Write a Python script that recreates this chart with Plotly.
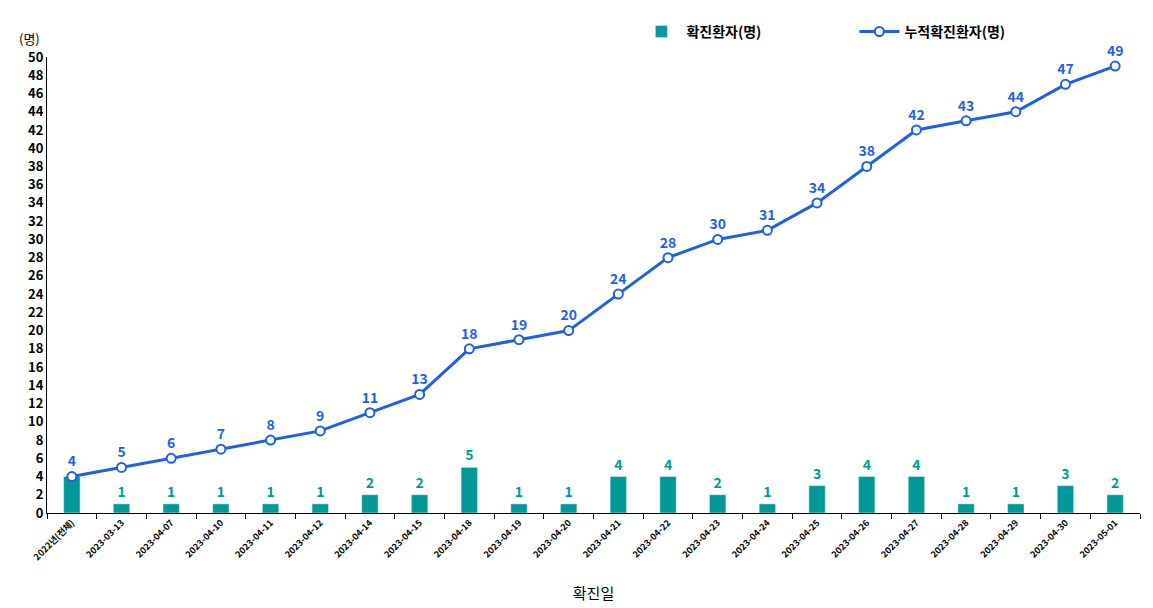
import plotly.graph_objects as go

dates = ['2022년(전체)', '2023-03-13', '2023-04-07', '2023-04-10', '2023-04-11', '2023-04-12',
         '2023-04-14', '2023-04-15', '2023-04-18', '2023-04-19', '2023-04-20', '2023-04-21',
         '2023-04-22', '2023-04-23', '2023-04-24', '2023-04-25', '2023-04-26', '2023-04-27',
         '2023-04-28', '2023-04-29', '2023-04-30', '2023-05-01']
daily_cases = [4, 1, 1, 1, 1, 1, 2, 2, 5, 1, 1, 4, 4, 2, 1, 3, 4, 4, 1, 1, 3, 2]
cumulative_cases = [4, 5, 6, 7, 8, 9, 11, 13, 18, 19, 20, 24, 28, 30, 31, 34, 38, 42, 43, 44, 47, 49]
y_ticks = list(range(0, 51, 2))

teal = '#009999'
blue = '#1f5fe8'
font_family = 'Noto Sans CJK KR, Noto Sans, sans-serif'

bar_text = [''] + [str(v) for v in daily_cases[1:]]          # first bar label hides under the line label

fig = go.Figure()
fig.add_trace(go.Bar(
    x=dates, y=daily_cases, name='확진환자(명)',
    marker=dict(color=teal), width=0.33,
    text=bar_text, textposition='outside', cliponaxis=False,
    textfont=dict(color=teal, size=14, family=font_family, weight='bold'),
))
fig.add_trace(go.Scatter(
    x=dates, y=cumulative_cases, name='누적확진환자(명)',
    mode='lines+markers+text',
    line=dict(color=blue, width=3),
    marker=dict(symbol='circle', size=9, color='white', line=dict(color=blue, width=2)),
    text=[str(v) for v in cumulative_cases], textposition='top center',
    textfont=dict(color=blue, size=14, family=font_family, weight='bold'),
    cliponaxis=False,
))

# page body adds 8px offset, margins account for it
fig.update_layout(
    width=1153, height=608,
    margin=dict(l=39, r=21, t=49, b=103, autoexpand=False),
    plot_bgcolor='white', paper_bgcolor='white',
    font=dict(family=font_family, color='black'),
    bargap=0.6,
    legend=dict(orientation='h', xref='container', yref='container',
                x=0.545, y=0.987, xanchor='left', yanchor='top',
                font=dict(size=14, family=font_family, weight='bold'), itemwidth=40,
                entrywidth=163, entrywidthmode='pixels'),
    xaxis=dict(
        type='category', range=[-0.5, len(dates) - 0.5], automargin=False,
        tickangle=-45, tickfont=dict(size=9, family=font_family, weight='bold'),
        showline=True, linecolor='black', linewidth=1,
        ticks='outside', tickson='boundaries', ticklen=5, tickcolor='black',
        showgrid=False,
        title=dict(text='확진일', font=dict(size=15, family=font_family), standoff=26),
    ),
    yaxis=dict(
        range=[0, 50], tickvals=y_ticks, automargin=False,
        tickfont=dict(size=13, family=font_family, weight='bold'),
        showline=True, linecolor='black', linewidth=1,
        showgrid=False, zeroline=False, ticks='',
    ),
)
fig.add_annotation(text='(명)', xref='paper', yref='paper', x=-0.027, y=1.015,
                   xanchor='left', yanchor='bottom', showarrow=False,
                   font=dict(size=13, family=font_family))

fig.write_html("out.html")
